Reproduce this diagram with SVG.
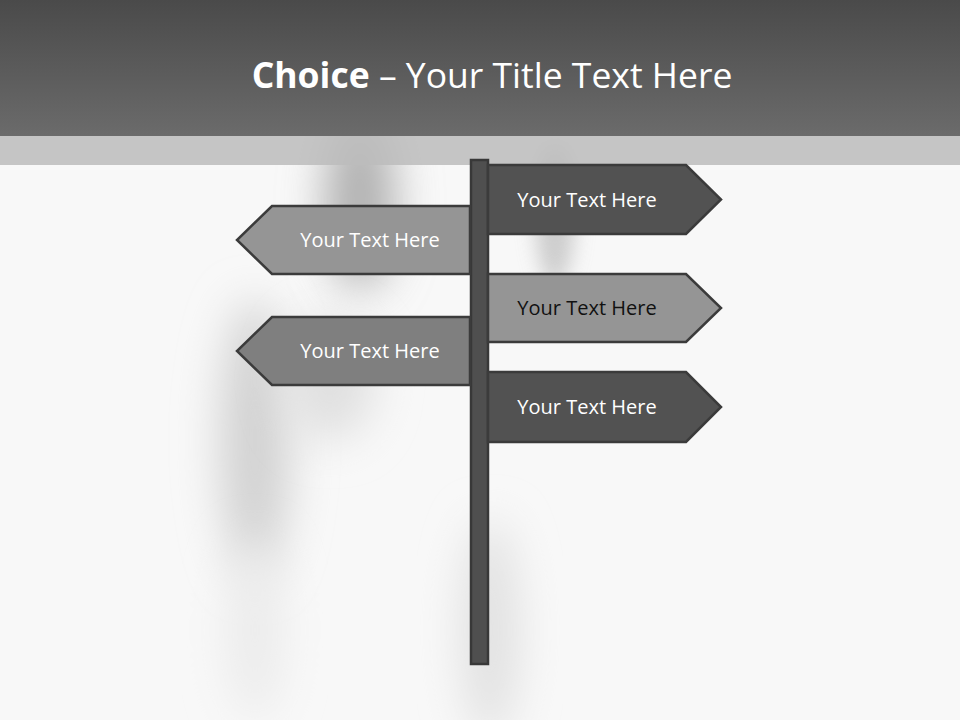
<svg xmlns="http://www.w3.org/2000/svg" width="960" height="720" viewBox="0 0 960 720">
<defs>
<linearGradient id="hdr" x1="0" y1="0" x2="0" y2="1">
<stop offset="0" stop-color="#4a4a4a"/>
<stop offset="1" stop-color="#6b6b6b"/>
</linearGradient>
<filter id="blur" x="-80%" y="-50%" width="260%" height="200%">
<feGaussianBlur stdDeviation="22"/>
</filter>
<filter id="blur2" x="-80%" y="-50%" width="260%" height="200%">
<feGaussianBlur stdDeviation="10"/>
</filter>
<clipPath id="body"><rect x="0" y="136" width="960" height="584"/></clipPath>
</defs>
<style>
.sign{stroke:#3b3b3b;stroke-width:2.5;stroke-linejoin:miter}
.dark{fill:#525252}
.light{fill:#959595}
.mid{fill:#7f7f7f}
.lbl{font-family:"Open Sans","Noto Sans",sans-serif;font-size:20px;text-anchor:middle}
.w{fill:#ffffff}
.k{fill:#111111}
</style>
<rect x="0" y="0" width="960" height="720" fill="#f8f8f8"/>
<g id="background-shadows" clip-path="url(#body)">
<ellipse cx="360" cy="200" rx="35" ry="90" fill="#b0b0b0" filter="url(#blur)"/>
<ellipse cx="555" cy="215" rx="20" ry="70" fill="#b0b0b0" filter="url(#blur2)" opacity="0.6"/>
<ellipse cx="255" cy="440" rx="35" ry="140" fill="#d2d2d2" filter="url(#blur)"/>
<ellipse cx="330" cy="380" rx="45" ry="60" fill="#e0e0e0" filter="url(#blur)"/>
<ellipse cx="490" cy="630" rx="28" ry="110" fill="#e0e0e0" filter="url(#blur)"/>
<ellipse cx="255" cy="630" rx="28" ry="90" fill="#ebebeb" filter="url(#blur)"/>
</g>
<rect x="0" y="136" width="960" height="29" fill="#bcbcbc" opacity="0.85"/>
<g id="header">
<rect x="0" y="0" width="960" height="136" fill="url(#hdr)"/>
<text x="492" y="88" text-anchor="middle" font-family="'Open Sans','Noto Sans',sans-serif" font-size="35.5" fill="#ffffff"><tspan font-weight="bold">Choice</tspan> – Your Title Text Here</text>
</g>
<g id="post">
<rect x="471" y="160" width="17" height="504" fill="#4f4f4f" stroke="#383838" stroke-width="2.5"/>
</g>
<g id="sign-right-1">
<polygon class="sign dark" points="488,165 686,165 721,199.5 686,234 488,234"/>
<text class="lbl w" x="587" y="206.5">Your Text Here</text>
</g>
<g id="sign-left-1">
<polygon class="sign light" points="470,206 272,206 237,240 272,274 470,274"/>
<text class="lbl w" x="370" y="246.5">Your Text Here</text>
</g>
<g id="sign-right-2">
<polygon class="sign light" points="488,274 686,274 721,308 686,342 488,342"/>
<text class="lbl k" x="587" y="314.5">Your Text Here</text>
</g>
<g id="sign-left-2">
<polygon class="sign mid" points="470,317 272,317 237,351 272,385 470,385"/>
<text class="lbl w" x="370" y="357.5">Your Text Here</text>
</g>
<g id="sign-right-3">
<polygon class="sign dark" points="488,372 686,372 721,407 686,442 488,442"/>
<text class="lbl w" x="587" y="413.5">Your Text Here</text>
</g>
<g id="connectors"/>
</svg>
